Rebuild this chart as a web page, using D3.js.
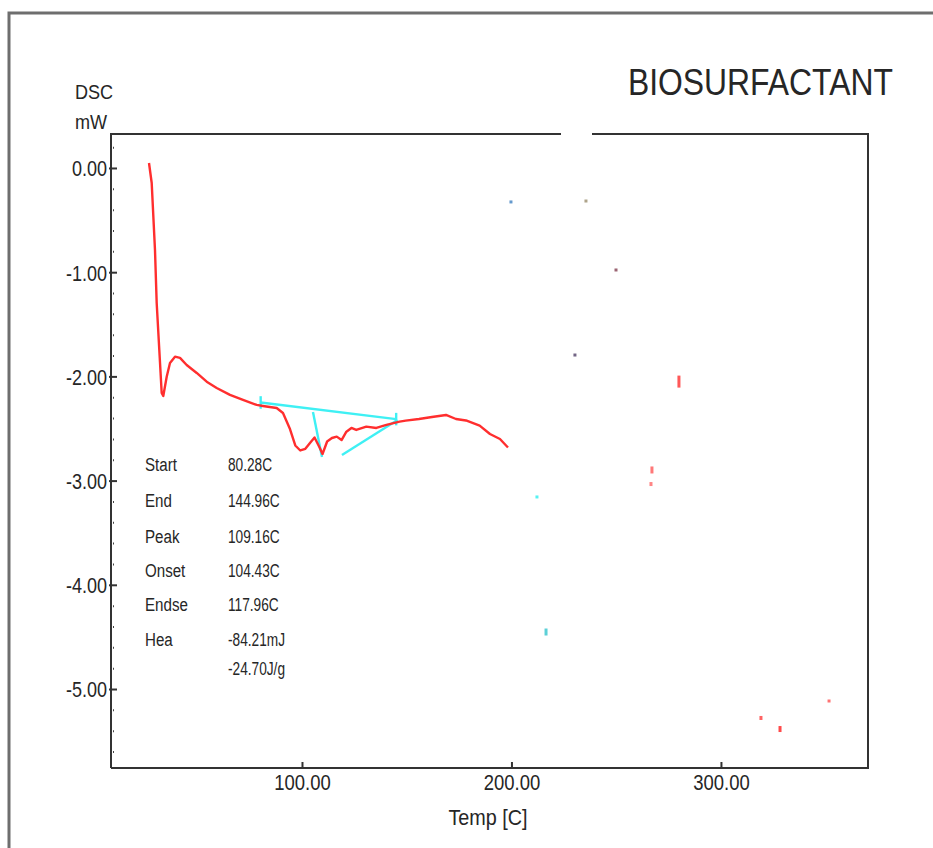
<!DOCTYPE html>
<html>
<head>
<meta charset="utf-8">
<script src="https://cdn.jsdelivr.net/npm/d3@7"></script>
<style>
  html, body { margin: 0; padding: 0; background: #fff; }
  svg { display: block; }
  text { font-family: "Liberation Sans", Arial, sans-serif; fill: #262626; }
</style>
</head>
<body>
<svg id="chart" width="933" height="848"></svg>
<script>
// DSC thermogram of the biosurfactant sample: temperature (C) vs heat flow (mW)
const temps = [26.97, 28.26, 29.83, 30.64, 31.89, 33.03, 33.79, 35.42, 36.99, 39.38,
  41.77, 44.96, 49.74, 54.51, 59.28, 65.63, 71.84, 78.38, 81.38, 87.92,
  90.93, 94.27, 96.8, 99.2, 101.6, 104.3, 106.0, 108.4, 109.8, 112.0,
  114.3, 116.6, 118.9, 121.2, 123.6, 125.9, 130.7, 135.5, 140.3, 146.6,
  149.5, 155.85, 162.05, 168.74, 173.51, 178.28, 184.82, 189.74, 194.51, 198.33];
const dsc = [0.048, -0.144, -0.787, -1.296, -1.747, -2.159, -2.188, -2.003, -1.871, -1.811,
  -1.823, -1.891, -1.967, -2.051, -2.111, -2.178, -2.226, -2.274, -2.284, -2.303,
  -2.351, -2.505, -2.663, -2.711, -2.695, -2.627, -2.586, -2.682, -2.745, -2.625,
  -2.591, -2.578, -2.611, -2.531, -2.495, -2.514, -2.482, -2.495, -2.466, -2.434,
  -2.425, -2.409, -2.390, -2.370, -2.409, -2.423, -2.472, -2.553, -2.601, -2.682];

// Peak analysis construction lines (temperature, mW)
const baselineT = [80.28, 144.96];
const baselineV = [-2.25, -2.41];
const onsetT = [105.25, 109.55];
const onsetV = [-2.342, -2.774];
const endsetT = [119.09, 145.6];
const endsetV = [-2.754, -2.418];

// Peak analysis results
const resultLabels = ["Start", "End", "Peak", "Onset", "Endse", "Hea", ""];
const resultValues = ["80.28C", "144.96C", "109.16C", "104.43C", "117.96C", "-84.21mJ", "-24.70J/g"];

// Stray plotter specks (temperature, mW, colour)
const speckT = [199.76, 235.56, 249.9, 230.3, 279.95, 267.06, 266.6, 212.17, 216.5, 319.1, 328.2, 351.6];
const speckV = [-0.326, -0.317, -0.979, -1.795, -2.05, -2.898, -3.033, -3.157, -4.453, -5.278, -5.384, -5.115];
const speckC = ["#4a88c4", "#a09476", "#8a4a5a", "#5a4a70", "#ff3b3b", "#ff6060", "#ff7070",
  "#38f0f0", "#40c8d0", "#ff4848", "#ff2a2a", "#ff5a5a"];
const speckH = [3, 3, 3, 3, 12, 7, 4, 3, 7, 4, 6, 3];

// Axis ticks
const yTicks = [0, -1, -2, -3, -4, -5];
const xTicks = [100, 200, 300];
const yLabel = ["DSC", "mW"];
const xLabel = "Temp [C]";
const title = "BIOSURFACTANT";

const svg = d3.select("#chart");
const plot = { left: 111, top: 134, right: 868, bottom: 768 };

const x = d3.scaleLinear().domain([8.83, 370.2]).range([plot.left, plot.right]);
const y = d3.scaleLinear().domain([0.326, -5.758]).range([plot.top, plot.bottom]);

// squeeze text horizontally to the narrow print face
function squeeze(sel, k) {
  sel.each(function () {
    const w = this.getComputedTextLength();
    if (w > 0) {
      d3.select(this).attr("textLength", (w * k).toFixed(1)).attr("lengthAdjust", "spacingAndGlyphs");
    }
  });
}

// outer page frame
svg.append("path")
  .attr("d", "M9,848 V13 H933")
  .attr("fill", "none").attr("stroke", "#6e6e6e").attr("stroke-width", 3);

// plot frame (top edge has a gap)
const frame = svg.append("g").attr("fill", "none").attr("stroke", "#333").attr("stroke-width", 2);
frame.append("path").attr("d", `M${plot.left},${plot.bottom} V${plot.top} H561`);
frame.append("path").attr("d", `M592,${plot.top} H${plot.right} V${plot.bottom} H${plot.left}`);

// y axis: major ticks pointing inward, labels outside
const yAxis = svg.append("g").attr("transform", `translate(${plot.left},0)`)
  .call(d3.axisLeft(y).tickValues(yTicks).tickSizeInner(-6).tickSizeOuter(0).tickPadding(4)
    .tickFormat(d => d.toFixed(2)));
yAxis.select(".domain").remove();
yAxis.selectAll(".tick line").attr("stroke", "#333").attr("stroke-width", 2).attr("x1", -2);
yAxis.selectAll(".tick text").attr("font-size", 22).attr("fill", "#2a2a2a")
  .attr("font-family", "Liberation Sans, Arial, sans-serif").attr("dy", "0.36em");
squeeze(yAxis.selectAll(".tick text"), 0.82);

// y minor ticks every 0.2
const minor = d3.range(1, -29, -1).map(i => i * 0.2).filter(v => Math.abs(v - Math.round(v)) > 1e-6);
const yMinor = svg.append("g").attr("transform", `translate(${plot.left},0)`)
  .call(d3.axisLeft(y).tickValues(minor).tickSizeInner(-3).tickSizeOuter(0).tickFormat(""));
yMinor.select(".domain").remove();
yMinor.selectAll(".tick line").attr("stroke", "#444").attr("stroke-width", 2).attr("x1", 2);

// x axis
const xAxis = svg.append("g").attr("transform", `translate(0,${plot.bottom})`)
  .call(d3.axisBottom(x).tickValues(xTicks).tickSizeInner(-6).tickSizeOuter(0).tickPadding(6)
    .tickFormat(d => d.toFixed(2)));
xAxis.select(".domain").remove();
xAxis.selectAll(".tick line").attr("stroke", "#333").attr("stroke-width", 2);
xAxis.selectAll(".tick text").attr("font-size", 22).attr("fill", "#2a2a2a")
  .attr("font-family", "Liberation Sans, Arial, sans-serif").attr("dy", "0.71em");
squeeze(xAxis.selectAll(".tick text"), 0.84);

// axis titles
const yl = svg.append("g").attr("font-size", 21);
yl.append("text").attr("x", 75).attr("y", 99).text(yLabel[0]);
yl.append("text").attr("x", 75).attr("y", 129).text(yLabel[1]);
squeeze(yl.selectAll("text"), 0.86);

const xl = svg.append("text").attr("x", 488).attr("y", 825).attr("text-anchor", "middle")
  .attr("font-size", 22).text(xLabel);
squeeze(xl, 0.9);

// title, narrowed with a horizontal scale so its box stays on the page
const tt = svg.append("text").attr("x", 0).attr("y", 0).attr("font-size", 37)
  .attr("fill", "#1a1a1a").text(title);
const tw = tt.node().getComputedTextLength();
tt.attr("transform", `translate(628,95) scale(${(265 / tw).toFixed(3)},1)`);

// stray specks
svg.append("g").selectAll("rect").data(speckT).join("rect")
  .attr("x", (d, i) => x(d) - 1.5)
  .attr("y", (d, i) => y(speckV[i]) - speckH[i] / 2)
  .attr("width", 3)
  .attr("height", (d, i) => speckH[i])
  .attr("fill", (d, i) => speckC[i])
  .attr("opacity", 0.85);

// analysis lines
const seg = (ts, vs) => d3.line().x(d => x(d[0])).y(d => y(d[1]))(ts.map((t, i) => [t, vs[i]]));
const cyan = svg.append("g").attr("fill", "none").attr("stroke", "#3ff0f4").attr("stroke-width", 2.4);
cyan.append("path").attr("d", seg(baselineT, baselineV));
cyan.append("path").attr("d", seg(onsetT, onsetV));
cyan.append("path").attr("d", seg(endsetT, endsetV));
// start / end markers on the baseline
baselineT.forEach((t, i) => {
  cyan.append("path").attr("d", seg([t, t], [baselineV[i] + 0.06, baselineV[i] - 0.06]));
});

// DSC curve
svg.append("path")
  .datum(temps.map((t, i) => [t, dsc[i]]))
  .attr("fill", "none")
  .attr("stroke", "#ff2e2e")
  .attr("stroke-width", 2.4)
  .attr("stroke-linejoin", "round")
  .attr("d", d3.line().x(d => x(d[0])).y(d => y(d[1])));

// results table
const rowY = [471, 507, 543, 577, 611, 646, 675];
svg.append("clipPath").attr("id", "valClip")
  .append("rect").attr("x", 220).attr("y", 440).attr("width", 70).attr("height", 250);
const tbl = svg.append("g").attr("font-size", 18);
const lab = tbl.selectAll("text.lab").data(resultLabels).join("text").attr("class", "lab")
  .attr("x", 145).attr("y", (d, i) => rowY[i]).text(d => d);
squeeze(lab, 0.84);
const val = tbl.append("g").attr("clip-path", "url(#valClip)")
  .selectAll("text").data(resultValues).join("text")
  .attr("x", 228).attr("y", (d, i) => rowY[i]).text(d => d);
squeeze(val, 0.76);
</script>
</body>
</html>
